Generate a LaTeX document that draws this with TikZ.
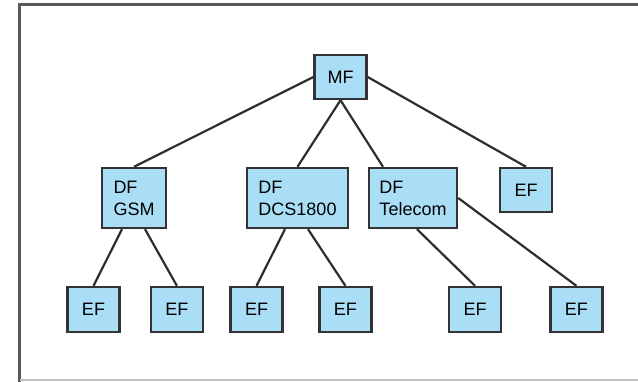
\documentclass[tikz,border=0pt]{standalone}
\usepackage{fontspec}
\setmainfont{Liberation Sans}
\usetikzlibrary{positioning}

\definecolor{fileblue}{RGB}{170,222,246}
\tikzset{
    ffile/.style={draw=black!80, fill=fileblue, line width=2.4pt, minimum width=52pt,
        minimum height=44pt, inner sep=0pt, font=\fontsize{18}{22}\selectfont},
    dfile/.style={ffile, align=left, minimum height=60pt},
    link/.style={draw=black!82, line width=2.2pt},
}

\begin{document}
\begin{tikzpicture}[x=1pt,y=-1pt]
            \useasboundingbox (0,0) rectangle (638,382);
            \draw[black!65, line width=3pt] (19.5,382) -- (19.5,4.5) -- (638,4.5);
            \draw[black!25, line width=2pt] (19.5,380) -- (638,380);

            \node[ffile] (mf) at (340.5,77) {MF};

            \node[dfile, minimum width=64pt] (gsm) at (134,198) {DF\\GSM};
            \node[dfile, minimum width=101pt] (dcs) at (297.5,198) {DF\\DCS1800};
            \node[dfile, minimum width=88pt] (tel) at (413,198) {DF\\Telecom};
            \node[ffile] (ef) at (526,190) {EF};

            \node[ffile, minimum height=45pt] (gsma) at (93.5,309.5) {EF};
            \node[ffile, minimum height=45pt, right=29pt of gsma] (gsmb) {EF};
            \node[ffile, minimum height=45pt] (dcsa) at (256.5,309.5) {EF};
            \node[ffile, minimum height=45pt, right=34.5pt of dcsa] (dcsb) {EF};
            \node[ffile, minimum height=45pt] (tela) at (475,309.5) {EF};
            \node[ffile, minimum height=45pt, right=47pt of tela] (telb) {EF};

            \draw[link] (mf.west) -- (gsm.north);
            \draw[link] (mf.south) -- (dcs.north);
            \draw[link] (mf.south) -- ([xshift=-30pt]tel.north);
            \draw[link] (mf.east) -- (ef.north);

            \draw[link] ([xshift=-12pt]gsm.south) -- (gsma.north);
            \draw[link] ([xshift=11pt]gsm.south) -- (gsmb.north);
            \draw[link] ([xshift=-12.5pt]dcs.south) -- (dcsa.north);
            \draw[link] ([xshift=10.5pt]dcs.south) -- (dcsb.north);
            \draw[link] ([xshift=4pt]tel.south) -- (tela.north);
            \draw[link] (tel.east) -- (telb.north);
\end{tikzpicture}
\end{document}
